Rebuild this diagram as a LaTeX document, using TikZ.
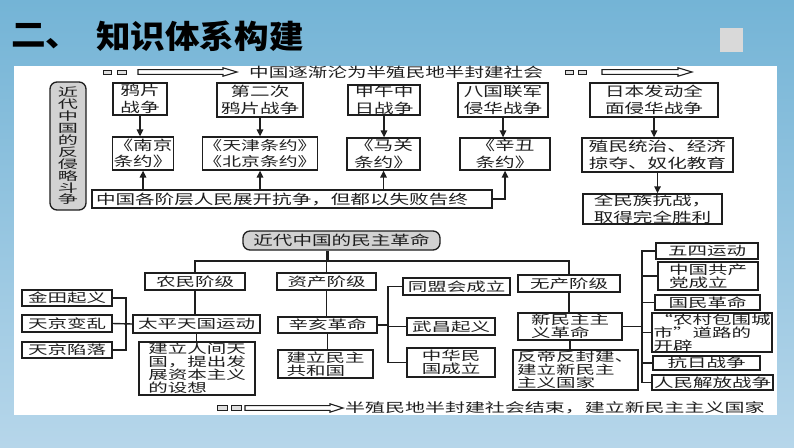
\documentclass[tikz,border=0pt]{standalone}
\usepackage{fontspec}
\usetikzlibrary{arrows.meta}
\newfontfamily\cjk[FakeStretch=1.45]{Noto Sans CJK SC}
\newfontfamily\cjkb[FakeStretch=1.56]{Noto Sans CJK SC}
\newfontfamily\cjkv[FakeStretch=1.75]{Noto Sans CJK SC}
\newfontfamily\cjkt[FakeStretch=1.08]{Noto Sans CJK SC}
\definecolor{lc}{HTML}{1E1E1E}
\definecolor{bgtop}{RGB}{116,180,214}
\definecolor{bgbot}{RGB}{182,214,234}
\newcommand{\bxn}[7][]{\node[bx,#1,minimum width={(#5-#3)*1pt},minimum height={(#6-#4)*1pt}] (#2) at ({(#3+#5)/2},{(#4+#6)/2}) {#7};}
\tikzset{
  bx/.style={draw=lc, line width=1.3pt, fill=white, inner xsep=1pt, inner ysep=0.5pt, align=center, text=lc,
    font=\cjk\fontsize{13.5}{16.5}\selectfont},
  tb/.style={font=\cjkb\fontsize{12.5}{13}\selectfont},
  lft/.style={align=left},
  rnd/.style={rounded corners=7pt, fill=gray!35},
  ln/.style={draw=lc, line width=1.4pt},
  arr/.style={ln, -{Triangle[length=7pt,width=6.5pt]}},
  txt/.style={anchor=west, inner sep=0pt, text=lc, font=\cjk\fontsize{13.5}{16.5}\selectfont},
  sq/.style={draw=lc, line width=0.9pt, fill=gray!25},
  harr/.style={draw=lc, line width=1.1pt, fill=white}
}
\begin{document}
\begin{tikzpicture}[x=1pt,y=-1pt]
\useasboundingbox (0,0) rectangle (794,447);
\shade[top color=bgtop, bottom color=bgbot] (0,0) rectangle (794,447);
% title
\node[anchor=west, inner sep=0pt, font=\cjkt\bfseries\fontsize{32}{36}\selectfont] (t0) at (11,36) {二、};
\node[anchor=west, inner sep=0pt, font=\cjkt\bfseries\fontsize{32}{36}\selectfont] (t1) at (96,36) {知识体系构建};
\fill[gray!30] (720,28) rectangle (743,52);
% panel
\fill[white] (14,66) rectangle (777,415);

% ---------- top section ----------
\draw[sq] (103,70) rectangle (111,74.5);
\draw[sq] (117,70) rectangle (126,74.5);
\draw[harr] (138,69.6) -- (223,69.6) -- (223,67.8) -- (237,72) -- (223,76.2) -- (223,74.4) -- (138,74.4) -- cycle;
\node[txt] (s1) at (249,72) {中国逐渐沦为半殖民地半封建社会};
\draw[sq] (565,70) rectangle (573,74.5);
\draw[sq] (578,70) rectangle (586,74.5);
\draw[harr] (602,69.6) -- (678,69.6) -- (678,67.8) -- (692,72) -- (678,76.2) -- (678,74.4) -- (602,74.4) -- cycle;

\node[bx, rnd, minimum width=36pt, minimum height=128pt, inner sep=0pt,
  font=\cjkv\fontsize{11.5}{11.9}\selectfont] (L1) at (68,146)
  {近\\代\\中\\国\\的\\反\\侵\\略\\斗\\争};

\bxn{a1}{113}{83}{167}{115}{鸦片\\战争}
\bxn{a2}{217}{83}{303}{117}{第二次\\鸦片战争}
\bxn{a3}{348}{85}{420}{115}{甲午中\\日战争}
\bxn{a4}{458}{83}{548}{117}{八国联军\\侵华战争}
\bxn{a5}{590}{83}{718}{117}{日本发动全\\面侵华战争}

\bxn{b1}{113}{137}{173}{170}{《南京\\条约》}
\bxn[font=\cjk\fontsize{13}{16.5}\selectfont]{b2}{203}{137}{317}{170}{《天津条约》\\《北京条约》}
\bxn{b3}{347}{138}{420}{170}{《马关\\条约》}
\bxn{b4}{460}{138}{550}{170}{《辛丑\\条约》}
\bxn{b5}{582}{138}{733}{172}{殖民统治、经济\\掠夺、奴化教育}

\node[bx, lft, text width=392pt, inner xsep=4pt, minimum height=18pt] (c1) at (292,199) {中国各阶层人民展开抗争，但都以失败告终};
\bxn{c2}{583}{195}{722}{223}{全民族抗战，\\取得完全胜利}

\draw[arr] (a1.south) -- (a1.south |- b1.north);
\draw[arr] (a2.south) -- (a2.south |- b2.north);
\draw[arr] (a3.south) -- (a3.south |- b3.north);
\draw[arr] (a4.south) -- (a4.south |- b4.north);
\draw[arr] (a5.south) -- (a5.south |- b5.north);
\draw[arr] (b5.south) -- (b5.south |- c2.north);
\draw[arr] (b1.south |- c1.north) -- (b1.south);
\draw[arr] (b2.south |- c1.north) -- (b2.south);
\draw[arr] (b3.south |- c1.north) -- (b3.south);
\draw[arr] (c1.east) -| (b4.south);

% ---------- bottom section ----------
\bxn[rnd]{d0}{243}{231}{440}{250}{近代中国的民主革命}
\coordinate (j) at (328,261);

\bxn[tb]{e1}{145}{273}{245}{290}{农民阶级}
\bxn[tb]{e2}{277}{273}{376}{290}{资产阶级}
\bxn[tb]{e3}{518}{275}{620}{292}{无产阶级}

\draw[ln] (d0.south -| j) -- (j);
\draw[ln] (e1.north) -- (e1.north |- j) -- (e3.north |- j) -- (e3.north);
\draw[ln] (d0.south -| e2.north) -- (e2.north);

\bxn[tb]{f1}{22}{290}{112}{306}{金田起义}
\bxn[tb]{f2}{22}{315}{112}{332}{天京变乱}
\bxn[tb]{f3}{22}{342}{112}{358}{天京陷落}
\bxn[tb]{g1}{133}{315}{260}{333}{太平天国运动}
\bxn[tb,lft]{g2}{139}{342}{255}{395}{建立人间天\\国，提出发\\展资本主义\\的设想}
\coordinate (bk1) at (126,0);
\draw[ln] (f1.east) -| (bk1 |- f3.east) -- (f3.east);
\draw[ln] (f2.east) -- (g1.west);
\draw[ln] (e1.south) -- (e1.south |- g1.north);
\draw[ln] (g1.south) -- (g1.south |- g2.north);

\bxn[tb]{h1}{278}{317}{377}{333}{辛亥革命}
\bxn[tb,lft]{h2}{278}{350}{373}{378}{建立民主\\共和国}
\draw[ln] (e2.south) -- (e2.south |- h1.north);
\draw[ln] (h1.south) -- (h1.south |- h2.north);

\bxn[tb]{i1}{403}{278}{510}{295}{同盟会成立}
\bxn[tb]{i2}{407}{318}{495}{335}{武昌起义}
\bxn[tb]{i3}{407}{348}{495}{377}{中华民\\国成立}
\coordinate (bk2) at (388,0);
\draw[ln] (h1.east) -- (h1.east -| bk2);
\draw[ln] (i1.west) -| (bk2 |- i3.west) -- (i3.west);
\draw[ln] (bk2 |- i2.west) -- (i2.west);

\bxn[tb,lft]{j1}{518}{313}{622}{340}{新民主主\\义革命}
\bxn[tb,lft]{j2}{513}{350}{638}{390}{反帝反封建、\\建立新民主\\主义国家}
\draw[ln] (e3.south) -- (e3.south |- j1.north);
\draw[ln] (j1.south) -- (j1.south |- j2.north);

\bxn[tb]{k1}{656}{243}{758}{259}{五四运动}
\bxn[tb,lft]{k2}{658}{262}{758}{290}{中国共产\\党成立}
\bxn[tb]{k3}{655}{295}{760}{310}{国民革命}
\bxn[tb,lft]{k4}{652}{313}{772}{352}{“农村包围城\\市”道路的\\开辟}
\bxn[tb]{k5}{653}{356}{760}{370}{抗日战争}
\bxn[tb]{k6}{652}{375}{773}{390}{人民解放战争}
\coordinate (bk3) at (642,0);
\draw[ln] (j1.east) -- (j1.east -| bk3);
\draw[ln] (k1.west) -| (bk3 |- k6.west) -- (k6.west);
\draw[ln] (bk3 |- k2.west) -- (k2.west);
\draw[ln] (bk3 |- k3.west) -- (k3.west);
\draw[ln] (bk3 |- k4.west) -- (k4.west);
\draw[ln] (bk3 |- k5.west) -- (k5.west);

% bottom arrow
\draw[sq] (217,405.5) rectangle (227,410.5);
\draw[sq] (231,405.5) rectangle (241,410.5);
\draw[harr] (245,405.6) -- (330,405.6) -- (330,403.8) -- (343,408) -- (330,412.2) -- (330,410.4) -- (245,410.4) -- cycle;
\node[txt, font=\cjkb\fontsize{12.8}{16}\selectfont] (s2) at (345,408) {半殖民地半封建社会结束，建立新民主主义国家};
\end{tikzpicture}
\end{document}
